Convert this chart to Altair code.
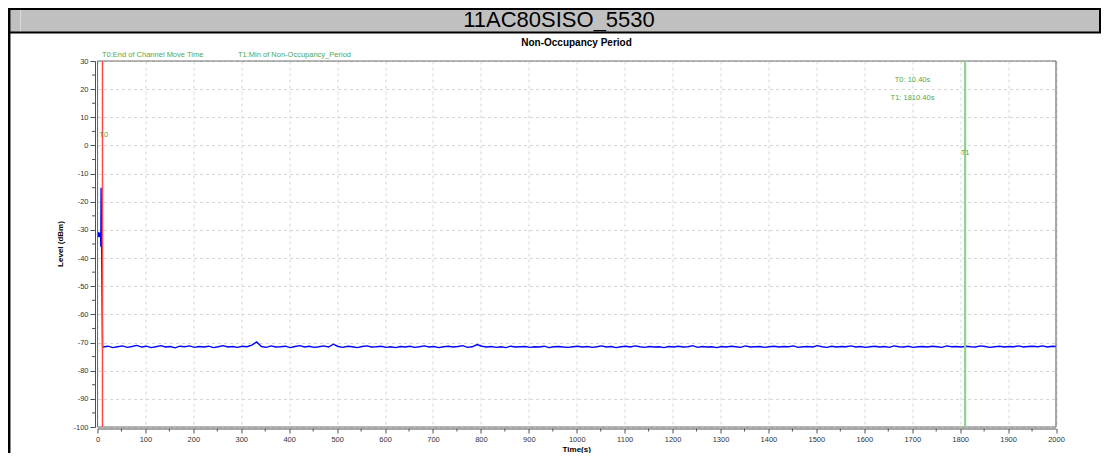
import altair as alt
import pandas as pd

# ---- axis ticks ----
x_ticks = list(range(0, 2001, 100))
y_ticks = list(range(-100, 31, 10))
x_minor = list(range(50, 2000, 100))
y_minor = list(range(-95, 30, 10))

# ---- measured level (dBm) ----
lead_t = [0, 1, 2, 2.7, 3.3, 4, 5, 6, 6.6, 7, 7.5, 10.5]
lead_v = [-31.5, -32.5, -31.2, -30.8, -32.5, -31.8, -31.5, -32.0, -33.0, -36.0, -15.0, -71.5]

noise_v = [
    -71.6, -71.3, -71.8, -71.5, -71.2, -71.7, -71.4, -71.0, -71.6, -71.3, -71.8, -71.5, -71.1, -71.6, -71.4, -71.9, -71.3, -71.5, -71.2, -71.7,
    -71.4, -71.6, -71.3, -71.8, -71.5, -71.1, -71.6, -71.4, -71.7, -71.3, -71.5, -70.9, -69.8, -71.4, -71.7, -71.2, -71.6, -71.5, -71.3, -71.8,
    -71.4, -71.1, -71.6, -71.3, -71.7, -71.5, -71.2, -71.6, -70.6, -71.4, -71.7, -71.3, -71.5, -71.8, -71.4, -71.2, -71.6, -71.5, -71.3, -71.7,
    -71.5, -71.8, -71.4, -71.6, -71.3, -71.7, -71.5, -71.2, -71.6, -71.4, -71.8, -71.5, -71.3, -71.6, -71.4, -71.1, -71.7, -71.5, -70.7, -71.3,
    -71.6, -71.4, -71.7, -71.5, -71.8, -71.3, -71.6, -71.5, -71.4, -71.7, -71.5, -71.6, -71.3, -71.8, -71.5, -71.4, -71.6, -71.7, -71.5, -71.3,
    -71.6, -71.4, -71.7, -71.5, -71.2, -71.6, -71.4, -71.8, -71.5, -71.3, -71.6, -71.2, -71.5, -71.7, -71.4, -71.6, -71.5, -71.8, -71.4, -71.6,
    -71.3, -71.6, -71.5, -71.1, -71.7, -71.4, -71.6, -71.5, -71.8, -71.4, -71.6, -71.3, -71.5, -71.7, -71.2, -71.6, -71.5, -71.4, -71.7, -71.5,
    -71.3, -71.6, -71.4, -71.5, -71.2, -71.7, -71.5, -71.4, -71.6, -71.1, -71.5, -71.7, -71.3, -71.6, -71.4, -71.5, -71.2, -71.6, -71.4, -71.7,
    -71.5, -71.3, -71.6, -71.4, -71.7, -71.2, -71.5, -71.6, -71.3, -71.7, -71.5, -71.4, -71.6, -71.3, -71.5, -71.7, -71.2, -71.5, -71.4, -71.6,
    -71.3, -71.5, -71.6, -71.2, -71.4, -71.7, -71.5, -71.3, -71.6, -71.4, -71.5, -71.2, -71.6, -71.4, -71.3, -71.5, -71.2, -71.6, -71.3,
]
noise_t = [12 + 10 * i for i in range(len(noise_v))]
end_t = [2000]
end_v = [-71.4]

# ---- markers ----
marker_t = [10.4, 1810.4]
marker_color = ["#ff4a4a", "#92cf92"]
marker_width = [1.5, 2.2]

header_text = "11AC80SISO_5530"
title_text = "Non-Occupancy Period"
legend_texts = ["T0:End of Channel Move Time", "T1:Min of Non-Occupancy_Period"]
info_texts = ["T0: 10.40s", "T1: 1810.40s"]

W, H = 958.5, 366
FONT = "Liberation Sans"
GREEN = "#4fa84f"
FRAME = "#6e6e6e"

df = pd.DataFrame({"t": lead_t + noise_t + end_t, "v": lead_v + noise_v + end_v})
mk = pd.DataFrame({"t": marker_t, "c": marker_color, "w": marker_width})
one = pd.DataFrame({"a": [0]})

xs = alt.Scale(domain=[0, 2000], nice=False, zero=False)
ys = alt.Scale(domain=[-100, 30], nice=False, zero=False)

x_axis = alt.Axis(
    values=x_ticks, title=None, labelExpr="datum.value + ''", labelFont=FONT, labelFontSize=7.5,
    labelColor="#333333", tickSize=4.5, tickColor="#505050", domainColor="#505050",
    offset=1.5, labelPadding=2, gridDash=[3, 3], gridColor="#d6d6d6", labelFlush=False,
    labelOverlap=False, grid=True)
y_axis = alt.Axis(
    values=y_ticks, title=None, labelExpr="datum.value + ''", labelFont=FONT, labelFontSize=7.5,
    labelColor="#333333", tickSize=5, tickColor="#505050", domainColor="#505050",
    offset=2.5, labelPadding=2, gridDash=[3, 3], gridColor="#d6d6d6", labelFlush=False,
    labelOverlap=False, grid=True)

def xq(f="t:Q"):
    return alt.X(f, scale=xs, axis=x_axis)

def yq(f="v:Q"):
    return alt.Y(f, scale=ys, axis=y_axis)

line = alt.Chart(df).mark_line(color="#0000ff", strokeWidth=1.4).encode(x=xq(), y=yq())

markers = alt.Chart(mk).mark_rule().encode(
    x=xq(),
    color=alt.Color("c:N", scale=None),
    strokeWidth=alt.StrokeWidth("w:Q", scale=None),
)

xminor = alt.Chart(pd.DataFrame({"t": x_minor})).mark_rule(color="#505050").encode(
    x=xq(), y=alt.value(H + 1.5), y2=alt.value(H + 4.5))
yminor = alt.Chart(pd.DataFrame({"v": y_minor})).mark_rule(color="#505050").encode(
    y=yq(), x=alt.value(-5.5), x2=alt.value(-2.5))

# marker labels near lines
t0_lab = alt.Chart(pd.DataFrame({"t": [3.8], "v": [3.7], "s": ["T0"]})).mark_text(
    align="left", baseline="middle", font=FONT, fontSize=7.5, color=GREEN).encode(
    x=xq(), y=yq(), text="s:N")
t1_lab = alt.Chart(pd.DataFrame({"t": [1810.4], "v": [-2.8], "s": ["T1"]})).mark_text(
    align="center", baseline="middle", font=FONT, fontSize=7.5, color=GREEN).encode(
    x=xq(), y=yq(), text="s:N")

def txt(s, x, y, size, color="#000000", weight="normal", align="left", angle=0, baseline="alphabetic"):
    kw = dict(align=align, baseline=baseline, font=FONT, fontSize=size, color=color, fontWeight=weight)
    if angle:
        kw["angle"] = angle
    return alt.Chart(one).mark_text(**kw).encode(x=alt.value(x), y=alt.value(y), text=alt.value(s))

def hrule(x1, x2, y, color, w):
    return alt.Chart(one).mark_rule(color=color, strokeWidth=w).encode(
        x=alt.value(x1), x2=alt.value(x2), y=alt.value(y))

def vrule(x, y1, y2, color, w):
    return alt.Chart(one).mark_rule(color=color, strokeWidth=w).encode(
        x=alt.value(x), y=alt.value(y1), y2=alt.value(y2))

# header decoration (plot coords: origin at plot top-left)
L = -89.5
R = W + 45
header_bg = alt.Chart(one).mark_rect(color="#c0c0c0").encode(
    x=alt.value(L), x2=alt.value(R), y=alt.value(-53), y2=alt.value(-28.5))
decor = [
    header_bg,
    vrule(-77, -52, -29, "#dadada", 1),
    hrule(L, R, -52, "#000000", 2),
    hrule(L, R, -28.5, "#000000", 2),
    vrule(R - 1, -53, -28.5, "#000000", 2),
    vrule(L + 1.2, -53, H + 26, "#000000", 2.5),
]

# plot frame drawn over the grid
frame = [
    hrule(0, W, 0, FRAME, 1),
    hrule(0, W, H, FRAME, 1),
    vrule(0, 0, H, FRAME, 1),
    vrule(W, 0, H, FRAME, 1.2),
]

texts = [
    txt(header_text, 461.5, -34.5, 22, align="center"),
    txt(title_text, 479, -15, 10, weight="bold", align="center"),
    txt(legend_texts[0], 4.5, -4.5, 7.5, color=GREEN),
    txt(legend_texts[1], 140.5, -4.5, 7.5, color=GREEN),
    txt(info_texts[0], 815, 19, 7.5, color=GREEN, align="center", baseline="middle"),
    txt(info_texts[1], 815, 37, 7.5, color=GREEN, align="center", baseline="middle"),
    txt("Level (dBm)", -36.5, H / 2, 8, weight="bold", align="center", angle=270, baseline="middle"),
    txt("Time(s)", W / 2, 391, 8, weight="bold", align="center"),
]

chart = alt.layer(
    *decor, line, *frame, markers, xminor, yminor, t0_lab, t1_lab, *texts
).properties(
    width=W, height=H,
    autosize=alt.AutoSizeParams(type="none"),
    padding={"left": 89.5, "top": 53, "right": 45, "bottom": 26},
    background="#ffffff",
).configure_view(stroke=None)

chart.save("out.html", embed_options={"renderer": "svg", "actions": False})
